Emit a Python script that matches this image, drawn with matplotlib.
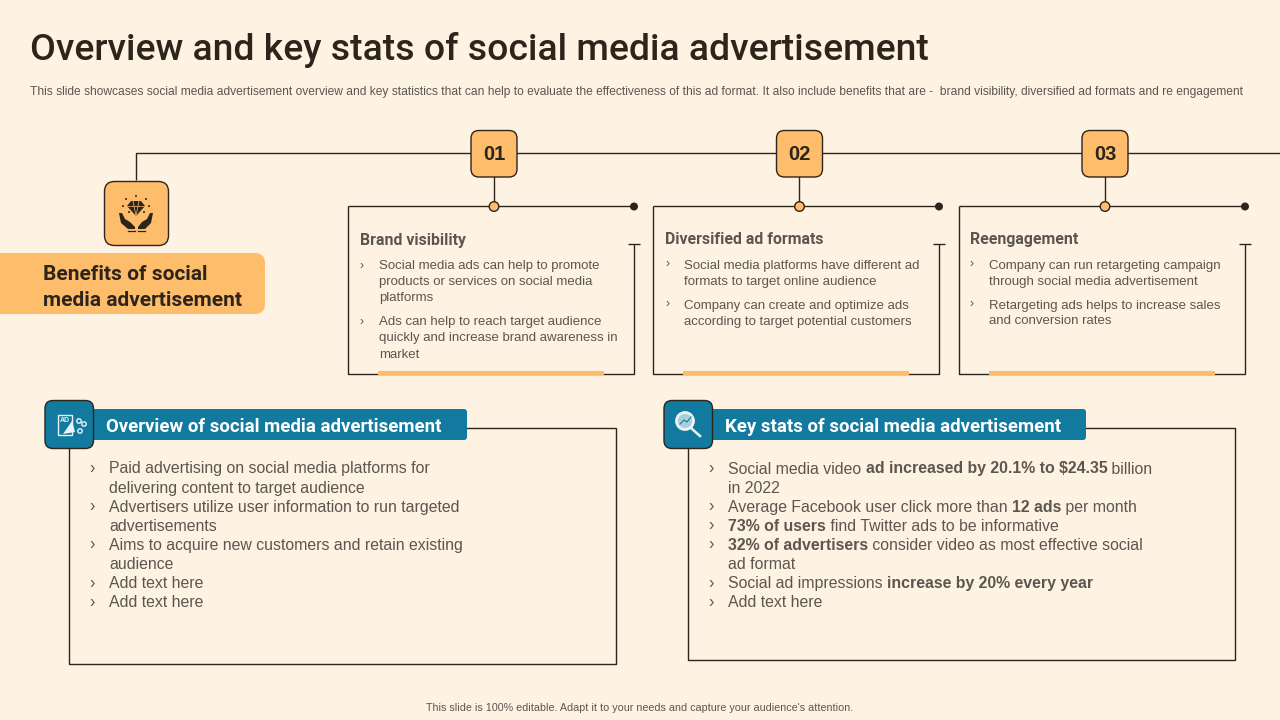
import matplotlib
matplotlib.use("Agg")
import matplotlib.pyplot as plt
from matplotlib.patches import FancyBboxPatch, Rectangle, Circle, Polygon

BG = "#fef3e2"
ORANGE = "#fdbd6b"
DARK = "#2d241c"
BLUE = "#127a9f"
GREY = "#5c5650"

title = "Overview and key stats of social media advertisement"
subtitle = ("This slide showcases social media advertisement overview and key statistics that can help to "
            "evaluate the effectiveness of this ad format. It also include benefits that are -  brand visibility, "
            "diversified ad formats and re engagement")
footer = "This slide is 100% editable. Adapt it to your needs and capture your audience's attention."
side_label = ["Benefits of social", "media advertisement"]
numbers = ["01", "02", "03"]
card_heads = ["Brand visibility", "Diversified ad formats", "Reengagement"]
card_lines = [
    [["Social media ads can help to promote", "products or services on social media", "platforms"],
     ["Ads can help to reach target audience", "quickly and increase brand awareness in", "market"]],
    [["Social media platforms have different ad", "formats to target online audience"],
     ["Company can create and optimize ads", "according to target potential customers"]],
    [["Company can run retargeting campaign", "through social media advertisement"],
     ["Retargeting ads helps to increase sales", "and conversion rates"]],
]
panel_heads = ["Overview of social media advertisement", "Key stats of social media advertisement"]
overview_lines = [
    ["Paid advertising on social media platforms for", "delivering content to target audience"],
    ["Advertisers utilize user information to run targeted", "advertisements"],
    ["Aims to acquire new customers and retain existing", "audience"],
    ["Add text here"],
    ["Add text here"],
]
# each line is a list of (text, bold) runs
stats_lines = [
    [[("Social media video ", 0), ("ad increased by 20.1% to $24.35", 1), (" billion", 0)], [("in 2022", 0)]],
    [[("Average Facebook user click more than ", 0), ("12 ads", 1), (" per month", 0)]],
    [[("73% of users", 1), (" find Twitter ads to be informative", 0)]],
    [[("32% of advertisers", 1), (" consider video as most effective social", 0)], [("ad format", 0)]],
    [[("Social ad impressions ", 0), ("increase by 20% every year", 1)]],
    [[("Add text here", 0)]],
]

plt.rcParams["font.family"] = ["Liberation Sans", "DejaVu Sans"]
fig = plt.figure(figsize=(12.8, 7.2), dpi=100, facecolor=BG)
ax = fig.add_axes([0, 0, 1, 1])
ax.set_xlim(0, 1280)
ax.set_ylim(720, 0)
ax.axis("off")


def line(xs, ys, c=DARK, lw=1.0, z=1):
    # -1 so the hairlines land on the same pixel row as the reference
    ax.plot([v - 1 for v in xs], [v - 1 for v in ys], color=c, lw=lw, solid_capstyle="butt", zorder=z)


def rbox(x, y, w, h, r, fc, ec="none", lw=1.0, z=3):
    ax.add_patch(FancyBboxPatch((x + r, y + r), w - 2 * r, h - 2 * r,
                                boxstyle=f"round,pad={r}", fc=fc, ec=ec, lw=lw, zorder=z))


def measure(s, size, bold):
    t = ax.text(0, 0, s, fontsize=size, fontweight="bold" if bold else "normal", alpha=0)
    w = t.get_window_extent(fig.canvas.get_renderer()).width
    t.remove()
    return w


def runs(x, y, parts, size, color=GREY):
    # draw text runs one after the other, bold ones in between
    for s, bold in parts:
        ax.text(x, y, s, fontsize=size, color=color, va="baseline", ha="left",
                fontweight="bold" if bold else "normal", zorder=5)
        x += measure("." + s + ".", size, bold) - measure("..", size, bold)


# heading
ax.text(30, 50, title, fontsize=26.9, family="Roboto", fontweight="medium", color=DARK, va="center", ha="left")
ax.text(30, 91.5, subtitle, fontsize=8.65, color=GREY, va="center", ha="left")
ax.text(639.5, 708, footer, fontsize=7.74, color=GREY, va="center", ha="center")

# top connector
line([136.5, 136.5, 1281], [181, 154, 154])

# side badge and label
rbox(104.5, 181.5, 64, 64, 10, ORANGE, DARK)
ax.add_patch(Polygon([(127, 206), (131, 201), (141, 201), (145, 206), (136, 216)], fc=DARK, ec="none", zorder=5))
ax.plot([127, 145], [206, 206], color=ORANGE, lw=0.5, zorder=6)
ax.plot([133, 136, 139], [201, 216, 201], color=ORANGE, lw=0.5, zorder=6)
for px, py in [(136, 196), (126, 199), (146, 199), (123, 206), (149, 206), (129, 212), (144, 212)]:
    ax.add_patch(Circle((px, py), 1.0, fc=DARK, ec="none", zorder=5))
ax.add_patch(Polygon([(119, 213), (122, 213), (125, 219), (130, 222), (135, 227), (135, 229), (128, 229), (121, 223)],
                     fc=DARK, ec="none", zorder=5))
ax.add_patch(Polygon([(153, 213), (150, 213), (147, 219), (142, 222), (138, 227), (138, 229), (145, 229), (151, 223)],
                     fc=DARK, ec="none", zorder=5))
ax.plot([128, 135], [230.5, 230.5], color=DARK, lw=0.9, zorder=5)
ax.plot([138, 145], [230.5, 230.5], color=DARK, lw=0.9, zorder=5)
rbox(-20, 253, 285, 61, 10, ORANGE)
for i, s in enumerate(side_label):
    ax.text(43, 274 + 26 * i, s, fontsize=15, family="Roboto", fontweight="bold", color=DARK,
            va="center", ha="left", zorder=5)

# three cards
card_x = [349, 654, 960]
badge_x = [494, 799.5, 1105]
head_x = [360, 665, 970]
head_y = [240, 239, 239]
for i in range(3):
    x0, bx = card_x[i], badge_x[i]
    x1 = x0 + 286
    line([x0, x0, x1, x1], [207, 375, 375, 245])
    line([x0, x1], [207, 207])
    line([x1 - 6, x1 + 6], [245, 245])
    line([bx + 0.5, bx + 0.5], [171, 207])
    line([x0 + 30, x0 + 256], [374, 374], c=ORANGE, lw=3, z=2)
    ax.add_patch(Circle((bx, 206.5), 4.8, fc=ORANGE, ec=DARK, lw=1, zorder=4))
    ax.add_patch(Circle((x1 - 1, 206.5), 4, fc=DARK, ec="none", zorder=4))
    rbox(bx - 23, 130.5, 46, 46.5, 8, ORANGE, DARK)
    ax.text(bx, 154, numbers[i], fontsize=14.5, fontweight="bold", color=DARK, va="center", ha="center", zorder=5)
    ax.text(head_x[i], head_y[i] + 0.5, card_heads[i], fontsize=11.4, family="Roboto", fontweight="bold",
            color=GREY, va="center", ha="left", zorder=5)
    y = head_y[i] + 25
    for item in card_lines[i]:
        ax.text(head_x[i], y + 0.5, "›", fontsize=9, color=GREY, va="center", ha="left")
        for s in item:
            ax.text(head_x[i] + 19, y + 4.5, s, fontsize=9.5, color=GREY, va="baseline", ha="left")
            y += 16
        y += 8

# bottom panels
panel_x = [70, 689]
panel_r = [617, 1236]
panel_b = [665, 661]
badge_l = [45, 664]
bar_r = [467, 1086]
for i in range(2):
    line([panel_x[i], panel_x[i], panel_r[i], panel_r[i], bar_r[i] - 5],
         [449, panel_b[i], panel_b[i], 428.5, 428.5])
    rbox(badge_l[i] + 30, 409, bar_r[i] - badge_l[i] - 30, 31, 3, BLUE)
    rbox(badge_l[i], 400.5, 48.5, 48, 8, BLUE, DARK)
    ax.text(badge_l[i] + 61, 426.5, panel_heads[i], fontsize=13.4, family="Roboto", fontweight="bold",
            color="white", va="center", ha="left", zorder=5)

# badge icons
WHITE = "#eaf3f5"
ax.add_patch(Rectangle((58, 415), 14, 20, fc="none", ec=WHITE, lw=1.0, zorder=5))
ax.text(65, 420, "AD", fontsize=5, color=WHITE, fontweight="bold", va="center", ha="center", zorder=5)
ax.add_patch(Polygon([(63, 434), (72, 421), (75, 432)], fc=WHITE, ec="none", zorder=5))
for px, py in [(79, 421), (84, 424), (80, 431)]:
    ax.add_patch(Circle((px, py), 2.2, fc="none", ec=WHITE, lw=1, zorder=5))
ax.add_patch(Circle((685, 421), 8.5, fc="#a9cfdc", ec=WHITE, lw=2, zorder=5))
ax.plot([691, 700], [428, 436], color=WHITE, lw=1.8, zorder=5)
ax.plot([680, 684, 687, 691], [424, 420, 422, 417], color=BLUE, lw=0.8, zorder=6)

# bottom panel text
y = 473.5
for item in overview_lines:
    ax.text(89, y - 5, "›", fontsize=11.5, color=GREY, va="center", ha="left")
    for s in item:
        ax.text(109, y, s, fontsize=11.4, color=GREY, va="baseline", ha="left")
        y += 19.1

y = 473.5
for item in stats_lines:
    ax.text(708, y - 5, "›", fontsize=11.5, color=GREY, va="center", ha="left")
    for parts in item:
        runs(728, y, parts, 11.45)
        y += 19.1

fig.savefig("out.png", dpi=100, facecolor=BG)
